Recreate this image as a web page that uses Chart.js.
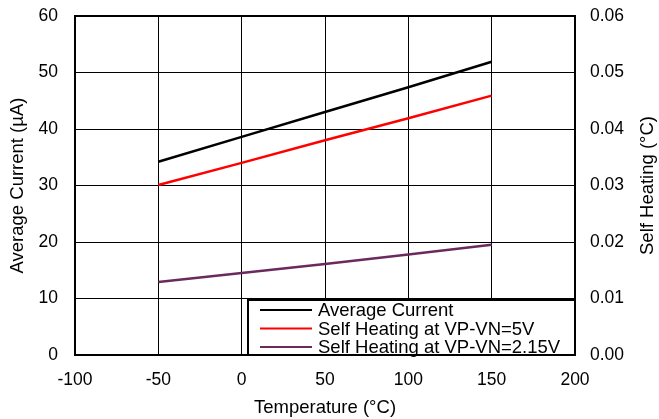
<!DOCTYPE html>
<html>
<head>
<meta charset="utf-8">
<script src="https://cdn.jsdelivr.net/npm/chart.js@4.4.0/dist/chart.umd.min.js"></script>
<style>
  html, body { margin: 0; padding: 0; background: #fff; }
  #wrap { width: 659px; height: 419px; position: relative; }
</style>
</head>
<body>
<div id="wrap"><canvas id="chart"></canvas></div>
<script>
// Data
const temps = [-50, 0, 50, 100, 150];
const avgCurrent = [34.2, 38.6, 43.0, 47.4, 51.9];           // µA (left axis)
const selfHeat5V = [0.0301, 0.0340, 0.0380, 0.0419, 0.0459]; // °C (right axis)
const selfHeat215V = [0.0129, 0.0145, 0.0161, 0.0178, 0.0195];

const xTicks = [-100, -50, 0, 50, 100, 150, 200];
const legendNames = ['Average Current', 'Self Heating at VP-VN=5V', 'Self Heating at VP-VN=2.15V'];
const lineColors = ['#000000', '#ff0000', '#6b2a5e'];
const axisTitles = { x: 'Temperature (°C)', y: 'Average Current (µA)', y2: 'Self Heating (°C)' };

const FONT = 'Arial, "Liberation Sans", sans-serif';
const TICK_SIZE = 17.5;
const TEXT_SIZE = 18.5;

const pts = (ys) => temps.map((t, i) => ({ x: t, y: ys[i] }));

// y axes: fixed width, and don't let tick padding push the plot top down
const fitY = (w) => (s) => {
    s.width = w;
    s.paddingTop = 4;
    s.paddingBottom = 4;
};

// axis titles, frame and boxed legend inside the plot area
const framePlugin = {
    id: 'frame',
    afterDatasetsDraw(chart) {
        const { ctx, chartArea: a } = chart;
        ctx.save();
        // legend box
        const bx = 248, by = 300;
        const bw = a.right - bx, bh = a.bottom - by;
        ctx.fillStyle = '#fff';
        ctx.fillRect(bx, by, bw, bh);
        ctx.lineWidth = 2;
        ctx.strokeStyle = '#000';
        ctx.strokeRect(bx, by, bw, bh);
        ctx.font = TEXT_SIZE + 'px ' + FONT;
        ctx.textBaseline = 'middle';
        ctx.textAlign = 'left';
        legendNames.forEach((name, i) => {
            const y = by + 10 + i * 18.5;
            ctx.strokeStyle = lineColors[i];
            ctx.lineWidth = 2;
            ctx.beginPath();
            ctx.moveTo(260, y);
            ctx.lineTo(312, y);
            ctx.stroke();
            ctx.fillStyle = '#000';
            ctx.fillText(name, 318, y + 1);
        });
        // plot frame
        ctx.lineWidth = 2;
        ctx.strokeStyle = '#000';
        ctx.strokeRect(a.left, a.top, a.right - a.left, a.bottom - a.top);

        // axis titles
        ctx.fillStyle = '#000';
        ctx.textAlign = 'center';
        ctx.textBaseline = 'middle';
        const midY = (a.top + a.bottom) / 2;
        ctx.fillText(axisTitles.x, (a.left + a.right) / 2, 408);
        ctx.save();
        ctx.translate(18, midY);
        ctx.rotate(-Math.PI / 2);
        ctx.fillText(axisTitles.y, 0, 0);
        ctx.restore();
        ctx.save();
        ctx.translate(648, midY);
        ctx.rotate(-Math.PI / 2);
        ctx.fillText(axisTitles.y2, 0, 0);
        ctx.restore();
        ctx.restore();
    }
};

new Chart(document.getElementById('chart').getContext('2d'), {
    type: 'line',
    data: {
        datasets: [
            { label: legendNames[0], data: pts(avgCurrent), yAxisID: 'y', borderColor: lineColors[0], borderWidth: 2.5, pointRadius: 0 },
            { label: legendNames[1], data: pts(selfHeat5V), yAxisID: 'y2', borderColor: lineColors[1], borderWidth: 2.5, pointRadius: 0 },
            { label: legendNames[2], data: pts(selfHeat215V), yAxisID: 'y2', borderColor: lineColors[2], borderWidth: 2.5, pointRadius: 0 }
        ]
    },
    options: {
        responsive: true,
        maintainAspectRatio: false,
        animation: false,
        layout: { padding: { top: 16, right: 0, left: 0, bottom: 0 } },
        plugins: {
            legend: { display: false },
            tooltip: { enabled: false }
        },
        scales: {
            x: {
                type: 'linear',
                min: -100, max: 200,
                afterBuildTicks: (s) => { s.ticks = xTicks.map(v => ({ value: v })); },
                afterFit: (s) => { s.height = 419 - 355; },
                grid: { color: '#000', lineWidth: 1, drawTicks: false },
                border: { display: false },
                ticks: { color: '#000', font: { family: FONT, size: TICK_SIZE }, padding: 15, maxRotation: 0 }
            },
            y: {
                position: 'left',
                min: 0, max: 60,
                afterFit: fitY(75),
                ticks: { stepSize: 10, color: '#000', font: { family: FONT, size: TICK_SIZE }, padding: 17 },
                grid: { color: '#000', lineWidth: 1, drawTicks: false },
                border: { display: false }
            },
            y2: {
                position: 'right',
                min: 0, max: 0.06,
                afterFit: fitY(659 - 575),
                ticks: { stepSize: 0.01, color: '#000', font: { family: FONT, size: TICK_SIZE }, padding: 15,
                         callback: (v) => v.toFixed(2) },
                grid: { display: false, drawTicks: false },
                border: { display: false }
            }
        }
    },
    plugins: [framePlugin]
});
</script>
</body>
</html>
